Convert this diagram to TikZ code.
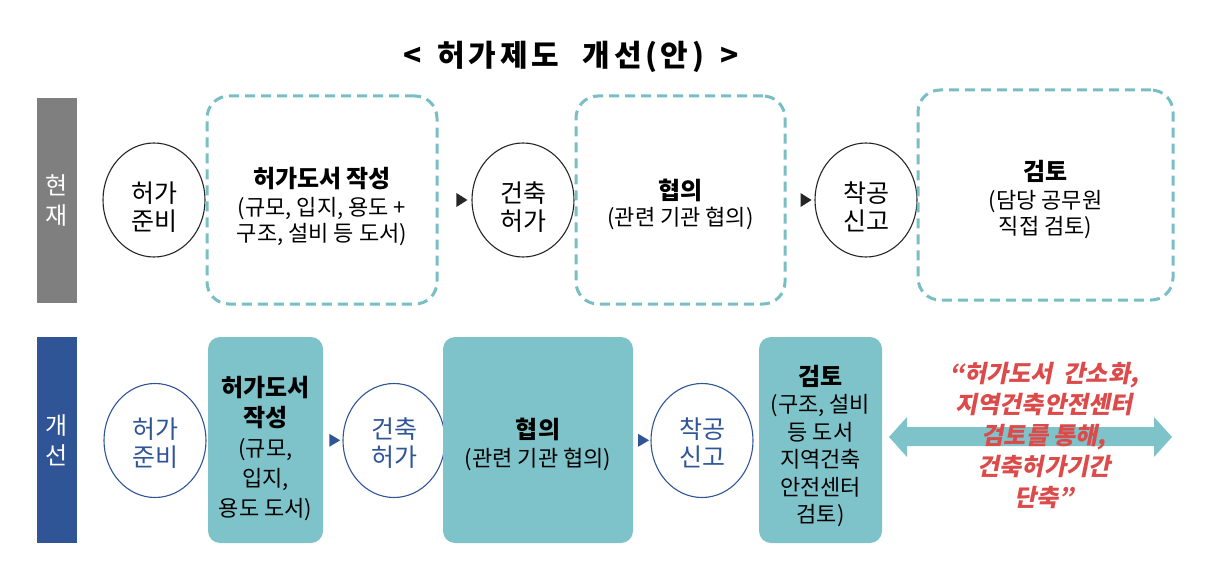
\documentclass[tikz,border=0pt]{standalone}
\usepackage{fontspec}
\setmainfont{Noto Sans CJK KR}
\newfontfamily\redfont[FakeSlant=0.2]{Noto Sans CJK KR}
\newfontfamily\titlefont[LetterSpace=12]{Noto Sans CJK KR}
\usetikzlibrary{shapes.geometric}
\definecolor{tealc}{HTML}{7EC3CA}
\definecolor{dashc}{HTML}{78BEC4}
\definecolor{bluec}{HTML}{2F5597}
\definecolor{grayc}{HTML}{7F7F7F}
\definecolor{redc}{HTML}{DC4A4A}
\definecolor{darkc}{HTML}{262626}
\tikzset{
  circ/.style={ellipse, draw=darkc, line width=1.1pt, minimum width=102pt, minimum height=114pt,
    inner sep=0pt},
  bcirc/.style={circ, draw=bluec},
  ctext/.style={align=center, inner sep=0pt, font=\fontsize{25}{28}\selectfont},
  bctext/.style={ctext, text=bluec},
  dbox/.style={draw=dashc, line width=3pt, dash pattern=on 10pt off 6pt, rounded corners=22pt,
    inner sep=0pt},
  fbox/.style={fill=tealc, rounded corners=12pt, inner sep=0pt},
  btext/.style={align=center, inner sep=0pt, font=\fontsize{22}{26}\selectfont},
  bar/.style={inner sep=0pt, minimum width=40pt, align=center, text=white,
    font=\fontsize{24}{30}\selectfont},
  tmark/.pic={\fill[darkc] (-5.5,-7) -- (5.5,0) -- (-5.5,7) -- cycle;},
  bmark/.pic={\fill[bluec] (-5.5,-6.5) -- (5.5,0) -- (-5.5,6.5) -- cycle;},
}
\newcommand{\hdr}[1]{{\bfseries\fontsize{24}{30}\selectfont #1}}
\begin{document}
\begin{tikzpicture}[x=1pt,y=-1pt]
\useasboundingbox (0,0) rectangle (1227,578);

% title
\node[font=\titlefont\bfseries\fontsize{30}{32}\selectfont] (title) at (571,57)
  {<\hspace{16pt}허가제도\hspace{24pt}개선(안)\hspace{16pt}>};

% side bars
\node[bar, fill=grayc, minimum height=205pt] (now) at (57,200.5) {현\\재};
\node[bar, fill=bluec, minimum height=206pt] (new) at (57,440) {개\\선};

% top row
\node[circ] (c1) at (154,200) {};
\node[ctext] (c1t) at ([yshift=-7pt]c1.center) {허가\\준비};
\node[dbox, minimum width=230pt, minimum height=208pt] (b1) at (322,200) {};
\node[btext] (b1t) at ([yshift=-7pt]b1.center)
  {\hdr{허가도서 작성}\\[2pt](규모, 입지, 용도 +\\구조, 설비 등 도서)};
\node[circ] (c2) at (523,200) {};
\node[ctext] (c2t) at ([yshift=-7pt]c2.center) {건축\\허가};
\node[dbox, minimum width=209pt, minimum height=208pt] (b2) at (680.5,200) {};
\node[btext] (b2t) at ([yshift=-4pt]b2.center) {\hdr{협의}\\(관련 기관 협의)};
\node[circ] (c3) at (866,200) {};
\node[ctext] (c3t) at ([yshift=-7pt]c3.center) {착공\\신고};
\node[dbox, minimum width=255pt, minimum height=210pt] (b3) at (1045.5,195) {};
\node[btext] (b3t) at ([yshift=-5pt]b3.center)
  {\hdr{검토}\\[2pt](담당 공무원\\직접 검토)};

\path (b1.east) -- (c2.west) pic[pos=0.71]{tmark};
\path (b2.east) -- (c3.west) pic[pos=0.7]{tmark};

% bottom row
\node[bcirc] (d1) at (155,440.5) {};
\node[bctext] (d1t) at ([yshift=-2.5pt]d1.center) {허가\\준비};
\node[fbox, minimum width=115pt, minimum height=206pt] (e1) at (265.5,440) {};
\node[btext, font=\fontsize{22}{30}\selectfont] (e1t) at ([yshift=-9pt]e1.center)
  {\hdr{허가도서}\\\hdr{작성}\\(규모,\\입지,\\용도 도서)};
\node[bcirc] (d2) at (394,440.5) {};
\node[bctext] (d2t) at ([yshift=-2.5pt]d2.center) {건축\\허가};
\node[fbox, minimum width=190pt, minimum height=206pt] (e2) at (538,440) {};
\node[btext, font=\fontsize{22}{28}\selectfont] (e2t) at ([yshift=-4pt]e2.center) {\hdr{협의}\\(관련 기관 협의)};
\node[bcirc] (d3) at (702,440.5) {};
\node[bctext] (d3t) at ([yshift=-2.5pt]d3.center) {착공\\신고};
\node[fbox, minimum width=123pt, minimum height=206pt] (e3) at (820.5,440) {};
\node[btext, font=\fontsize{22}{27.4}\selectfont] (e3t) at ([yshift=-6pt]e3.center)
  {\hdr{검토}\\(구조, 설비\\등 도서\\지역건축\\안전센터\\검토)};

\path (e1.east) -- (d2.west) pic[pos=0.6]{bmark};
\path (e2.east) -- (d3.west) pic[pos=0.6]{bmark};

% double arrow
\fill[tealc] (889,437) -- (907,417) -- (907,427) -- (1154,427) -- (1154,417) -- (1172,437)
  -- (1154,457) -- (1154,446) -- (907,446) -- (907,457) -- cycle;

\node[align=center, text=redc, font=\redfont\bfseries\fontsize{24}{31}\selectfont] (msg) at (1044,435)
  {“허가도서\ \ 간소화,\\지역건축안전센터\\검토를 통해,\\건축허가기간\\단축”};
\end{tikzpicture}
\end{document}
